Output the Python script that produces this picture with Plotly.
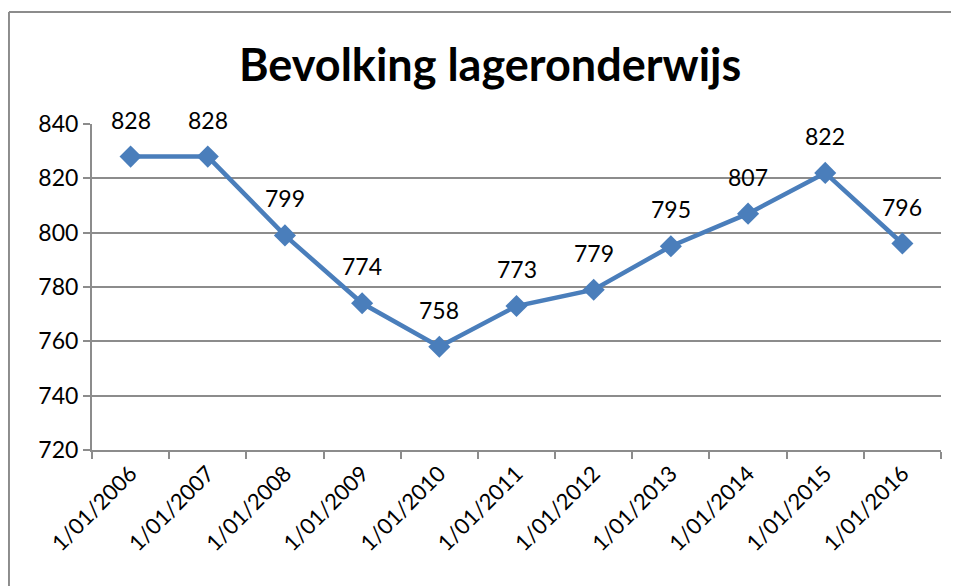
import plotly.graph_objects as go

# data
dates = ["1/01/2006", "1/01/2007", "1/01/2008", "1/01/2009", "1/01/2010", "1/01/2011",
         "1/01/2012", "1/01/2013", "1/01/2014", "1/01/2015", "1/01/2016"]
pupils = [828, 828, 799, 774, 758, 773, 779, 795, 807, 822, 796]
ytick_vals = [720, 740, 760, 780, 800, 820, 840]

blue = "#4A7EBB"
grid = "#8C8C8C"
font_fam = "Lato, Open Sans, sans-serif"

fig = go.Figure(
    data=[
        go.Scatter(
            x=dates,
            y=pupils,
            mode="lines+markers",
            line=dict(color=blue, width=4.5),
            marker=dict(symbol="diamond", size=17, color=blue),
            hoverinfo="x+y",
        )
    ]
)

# data labels above the points
for d, v in zip(dates, pupils):
    fig.add_annotation(x=d, y=v, text=str(v), showarrow=False, yshift=37,
                       font=dict(size=23, color="black", family=font_fam))

# chart border - only top and left edges are inside the picture
fig.add_shape(type="line", xref="paper", yref="paper",
              x0=-0.0978, x1=1.1, y0=1.3436, y1=1.3436,
              line=dict(color=grid, width=2))
fig.add_shape(type="line", xref="paper", yref="paper",
              x0=-0.0978, x1=-0.0978, y0=-0.5, y1=1.3436,
              line=dict(color=grid, width=2))

fig.update_layout(
    width=959, height=586,
    margin=dict(l=84, r=26, t=116, b=144, autoexpand=False),
    paper_bgcolor="white", plot_bgcolor="white",
    showlegend=False,
    title=dict(text="<b>Bevolking lageronderwijs</b>", x=0.469, xref="paper", xanchor="center",
               y=0.903, yref="container", yanchor="middle",
               font=dict(size=45, color="black", family=font_fam)),
    font=dict(family=font_fam, color="black"),
)
fig.update_xaxes(
    type="category", tickson="boundaries", ticks="outside", ticklen=7,
    tickcolor=grid, tickwidth=2, tickangle=-45, automargin=False,
    tickfont=dict(size=22, family=font_fam, color="black"),
    showline=True, linecolor=grid, linewidth=2, showgrid=False,
    range=[-0.5, len(dates) - 0.5],
)
fig.update_yaxes(
    range=[720, 840], tickvals=ytick_vals, ticks="outside", ticklen=7,
    tickcolor=grid, tickwidth=2, automargin=False,
    tickfont=dict(size=23, family=font_fam, color="black"),
    showline=True, linecolor=grid, linewidth=2,
    showgrid=True, gridcolor=grid, gridwidth=2, zeroline=False,
)

fig.write_html("out.html")
